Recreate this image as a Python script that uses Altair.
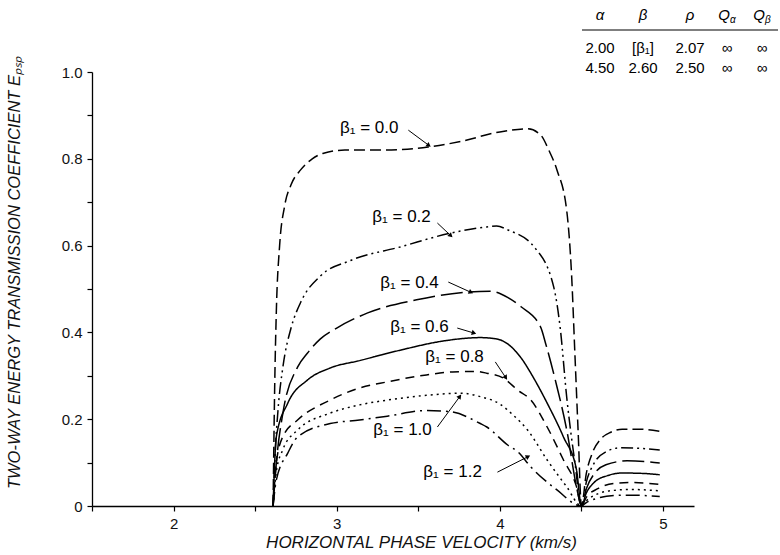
import math
import altair as alt
import pandas as pd

# ---------------- data ----------------
betas = ["0.0", "0.2", "0.4", "0.6", "0.8", "1.0", "1.2"]

v_b00 = [2.61, 2.62, 2.63, 2.65, 2.68, 2.72, 2.78, 2.85, 2.92, 3.05, 3.30, 3.56, 3.76, 4.00, 4.17, 4.25, 4.30, 4.35, 4.41, 4.44, 4.46, 4.48, 4.50, 4.53, 4.57, 4.62, 4.68, 4.75, 4.85, 4.98]
e_b00 = [0.00, 0.28, 0.45, 0.60, 0.69, 0.74, 0.775, 0.80, 0.813, 0.82, 0.82, 0.827, 0.84, 0.862, 0.869, 0.855, 0.82, 0.774, 0.68, 0.53, 0.35, 0.17, 0.00, 0.075, 0.125, 0.155, 0.17, 0.177, 0.177, 0.172]

v_b02 = [2.61, 2.62, 2.64, 2.67, 2.72, 2.78, 2.90, 3.08, 3.39, 3.70, 3.92, 3.98, 4.05, 4.21, 4.33, 4.37, 4.41, 4.46, 4.50, 4.53, 4.58, 4.65, 4.74, 4.85, 4.98]
e_b02 = [0.00, 0.10, 0.22, 0.32, 0.41, 0.47, 0.53, 0.565, 0.597, 0.629, 0.643, 0.645, 0.636, 0.597, 0.505, 0.41, 0.25, 0.10, 0.00, 0.055, 0.10, 0.125, 0.134, 0.133, 0.129]

v_b04 = [2.61, 2.63, 2.67, 2.76, 2.82, 2.90, 3.00, 3.19, 3.49, 3.80, 3.94, 4.05, 4.13, 4.25, 4.28, 4.34, 4.41, 4.47, 4.50, 4.53, 4.58, 4.65, 4.78, 4.90, 4.98]
e_b04 = [0.00, 0.10, 0.214, 0.32, 0.352, 0.385, 0.41, 0.445, 0.475, 0.493, 0.495, 0.48, 0.459, 0.412, 0.375, 0.29, 0.175, 0.044, 0.00, 0.04, 0.075, 0.095, 0.104, 0.102, 0.099]

v_b06 = [2.61, 2.63, 2.70, 2.82, 2.96, 3.14, 3.40, 3.65, 3.88, 3.98, 4.06, 4.14, 4.19, 4.29, 4.39, 4.47, 4.50, 4.53, 4.58, 4.66, 4.75, 4.88, 4.98]
e_b06 = [0.00, 0.16, 0.237, 0.29, 0.318, 0.335, 0.36, 0.38, 0.388, 0.385, 0.37, 0.336, 0.306, 0.237, 0.159, 0.083, 0.00, 0.03, 0.055, 0.07, 0.076, 0.075, 0.072]

v_b08 = [2.61, 2.63, 2.67, 2.76, 2.96, 3.14, 3.31, 3.55, 3.71, 3.85, 3.92, 4.02, 4.11, 4.19, 4.29, 4.39, 4.47, 4.50, 4.53, 4.60, 4.70, 4.80, 4.98]
e_b08 = [0.00, 0.10, 0.16, 0.198, 0.244, 0.272, 0.286, 0.302, 0.309, 0.31, 0.306, 0.295, 0.267, 0.244, 0.182, 0.106, 0.044, 0.00, 0.02, 0.04, 0.052, 0.054, 0.05]

v_b10 = [2.61, 2.63, 2.67, 2.76, 2.96, 3.14, 3.31, 3.55, 3.76, 3.88, 4.00, 4.08, 4.17, 4.29, 4.41, 4.50, 4.53, 4.60, 4.70, 4.80, 4.98]
e_b10 = [0.00, 0.08, 0.13, 0.175, 0.214, 0.233, 0.244, 0.255, 0.26, 0.252, 0.235, 0.21, 0.175, 0.106, 0.044, 0.00, 0.012, 0.028, 0.036, 0.038, 0.035]

v_b12 = [2.61, 2.63, 2.70, 2.76, 2.96, 3.14, 3.31, 3.55, 3.70, 3.88, 3.92, 4.05, 4.11, 4.19, 4.35, 4.50, 4.53, 4.60, 4.70, 4.80, 4.98]
e_b12 = [0.00, 0.06, 0.122, 0.159, 0.19, 0.198, 0.207, 0.22, 0.217, 0.19, 0.182, 0.14, 0.125, 0.09, 0.037, 0.00, 0.008, 0.018, 0.024, 0.025, 0.022]

label_texts = ["β₁ = 0.0", "β₁ = 0.2", "β₁ = 0.4", "β₁ = 0.6", "β₁ = 0.8", "β₁ = 1.0", "β₁ = 1.2"]
label_v = [3.02, 3.218, 3.267, 3.328, 3.543, 3.224, 3.531]
label_e = [0.871, 0.666, 0.514, 0.412, 0.343, 0.175, 0.078]
arrow_v1 = [3.439, 3.617, 3.684, 3.739, 3.972, 3.617, 3.985]
arrow_e1 = [0.866, 0.652, 0.516, 0.410, 0.332, 0.182, 0.078]
arrow_v2 = [3.561, 3.696, 3.819, 3.837, 4.034, 3.752, 4.169]
arrow_e2 = [0.832, 0.624, 0.493, 0.399, 0.297, 0.251, 0.113]

tbl_header = ["α", "β", "ρ", "Q", "Q"]
tbl_header_sub = ["", "", "", "α", "β"]
tbl_row1 = ["2.00", "[β₁]", "2.07", "∞", "∞"]
tbl_row2 = ["4.50", "2.60", "2.50", "∞", "∞"]

y_ticks = [0, 0.1, 0.2, 0.3, 0.4, 0.5, 0.6, 0.7, 0.8, 0.9, 1.0]
x_ticks = [1.5, 2, 2.5, 3, 3.5, 4, 4.5, 5]

# ---------------- layout / style ----------------
X0, X1 = 1.5, 5.19
W, H = 602, 434
LEFT, TOP = 92, 72
FONT = "Liberation Sans"
dashes = [[11, 5], [12, 4, 2, 4, 2, 4], [22, 6], [1, 0], [9, 6], [2, 4], [14, 5, 2, 5]]

curves = [(v_b00, e_b00), (v_b02, e_b02), (v_b04, e_b04), (v_b06, e_b06),
          (v_b08, e_b08), (v_b10, e_b10), (v_b12, e_b12)]
rows = []
for b, (vs, es) in zip(betas, curves):
    for i, (v, e) in enumerate(zip(vs, es)):
        rows.append({"beta": b, "i": i, "v": v, "E": e})
df = pd.DataFrame(rows)

xs = alt.Scale(domain=[X0, X1], nice=False, zero=False)
ys = alt.Scale(domain=[0, 1.0], nice=False)

lines = alt.Chart(df).mark_line(interpolate="monotone", color="black", strokeWidth=1.5).encode(
    x=alt.X("v:Q", scale=xs,
            axis=alt.Axis(values=x_ticks,
                          labelExpr="datum.value % 1 == 0 ? format(datum.value, 'd') : ''",
                          title="HORIZONTAL PHASE VELOCITY (km/s)",
                          titleX=329, titleY=36, titleBaseline="middle", titleAlign="center",
                          titleFontSize=17,
                          tickSize=5, labelPadding=5, grid=False)),
    y=alt.Y("E:Q", scale=ys,
            axis=alt.Axis(values=y_ticks,
                          labelExpr="datum.value == 0 ? '0' : (round(datum.value * 10) % 2 == 0 ? format(datum.value, '.1f') : '')",
                          title="TWO-WAY ENERGY TRANSMISSION COEFFICIENT E\u209a\u209b\u209a",
                          titleX=-78, titleY=200, titleBaseline="middle", titleAlign="center",
                          titleFontSize=16.5,
                          tickSize=5, labelPadding=5, grid=False)),
    strokeDash=alt.StrokeDash("beta:N", scale=alt.Scale(domain=betas, range=dashes), legend=None),
    detail="beta:N",
    order="i:Q",
)

lab_df = pd.DataFrame({"t": label_texts, "v": label_v, "E": label_e})
labels = alt.Chart(lab_df).mark_text(align="left", baseline="middle", font=FONT, fontSize=17, color="black").encode(
    x=alt.X("v:Q", scale=xs), y=alt.Y("E:Q", scale=ys), text="t:N")

pxu = W / (X1 - X0)
pyu = H / 1.0
angs = []
for a1, b1, a2, b2 in zip(arrow_v1, arrow_e1, arrow_v2, arrow_e2):
    dx = (a2 - a1) * pxu
    dy = -(b2 - b1) * pyu
    angs.append(math.degrees(math.atan2(dx, -dy)) % 360)
arr_df = pd.DataFrame({"v1": arrow_v1, "e1": arrow_e1, "v2": arrow_v2, "e2": arrow_e2, "ang": angs})
arrows = alt.Chart(arr_df).mark_rule(color="black", strokeWidth=1).encode(
    x=alt.X("v1:Q", scale=xs), y=alt.Y("e1:Q", scale=ys), x2="v2:Q", y2="e2:Q")
heads = alt.Chart(arr_df).mark_point(shape="triangle", filled=True, color="black", size=28, opacity=1).encode(
    x=alt.X("v2:Q", scale=xs), y=alt.Y("e2:Q", scale=ys), angle=alt.Angle("ang:Q", scale=None))

# table at the top right (pixel positions relative to the plot origin)
col_x = [600, 643, 690, 727, 762]
hdr_df = pd.DataFrame({"t": tbl_header, "px": [c - LEFT - (3 if s else 0) for c, s in zip(col_x, tbl_header_sub)],
                       "py": [15 - TOP] * 5})
sub_df = pd.DataFrame({"t": tbl_header_sub, "px": [c - LEFT + 3 for c in col_x], "py": [20 - TOP] * 5})
body_df = pd.DataFrame({"t": tbl_row1 + tbl_row2,
                        "px": [c - LEFT for c in col_x] * 2,
                        "py": [48 - TOP] * 5 + [68 - TOP] * 5})
hdr = alt.Chart(hdr_df).mark_text(font=FONT, fontSize=15, fontStyle="italic", color="black", baseline="middle").encode(
    x=alt.X("px:Q", scale=None), y=alt.Y("py:Q", scale=None), text="t:N")
sub = alt.Chart(sub_df).mark_text(font=FONT, fontSize=10, fontStyle="italic", color="black", baseline="middle",
                                  align="left").encode(
    x=alt.X("px:Q", scale=None), y=alt.Y("py:Q", scale=None), text="t:N")
body = alt.Chart(body_df).mark_text(font=FONT, fontSize=15, color="black", baseline="middle").encode(
    x=alt.X("px:Q", scale=None), y=alt.Y("py:Q", scale=None), text="t:N")
hline = alt.Chart(pd.DataFrame({"a": [0]})).mark_rule(color="black", strokeWidth=1.2).encode(
    x=alt.value(582 - LEFT), x2=alt.value(778 - LEFT), y=alt.value(30 - TOP))

chart = alt.layer(lines, arrows, heads, labels, hdr, sub, body, hline).resolve_scale(
    x="shared", y="shared"
).properties(
    width=W, height=H,
    autosize=alt.AutoSizeParams(type="none"),
    padding={"left": LEFT, "top": TOP, "right": 780 - LEFT - W, "bottom": 555 - TOP - H},
    background="white",
).configure_view(strokeWidth=0).configure_axis(
    domainColor="black", tickColor="black", labelColor="#111", labelFont=FONT, labelFontSize=15,
    titleFont=FONT, titleFontSize=15, titleFontStyle="italic", titleFontWeight="normal", titleColor="#111",
    domainWidth=1.3, tickWidth=1.2,
)

chart.save("out.html", embed_options={"renderer": "svg", "actions": False})
